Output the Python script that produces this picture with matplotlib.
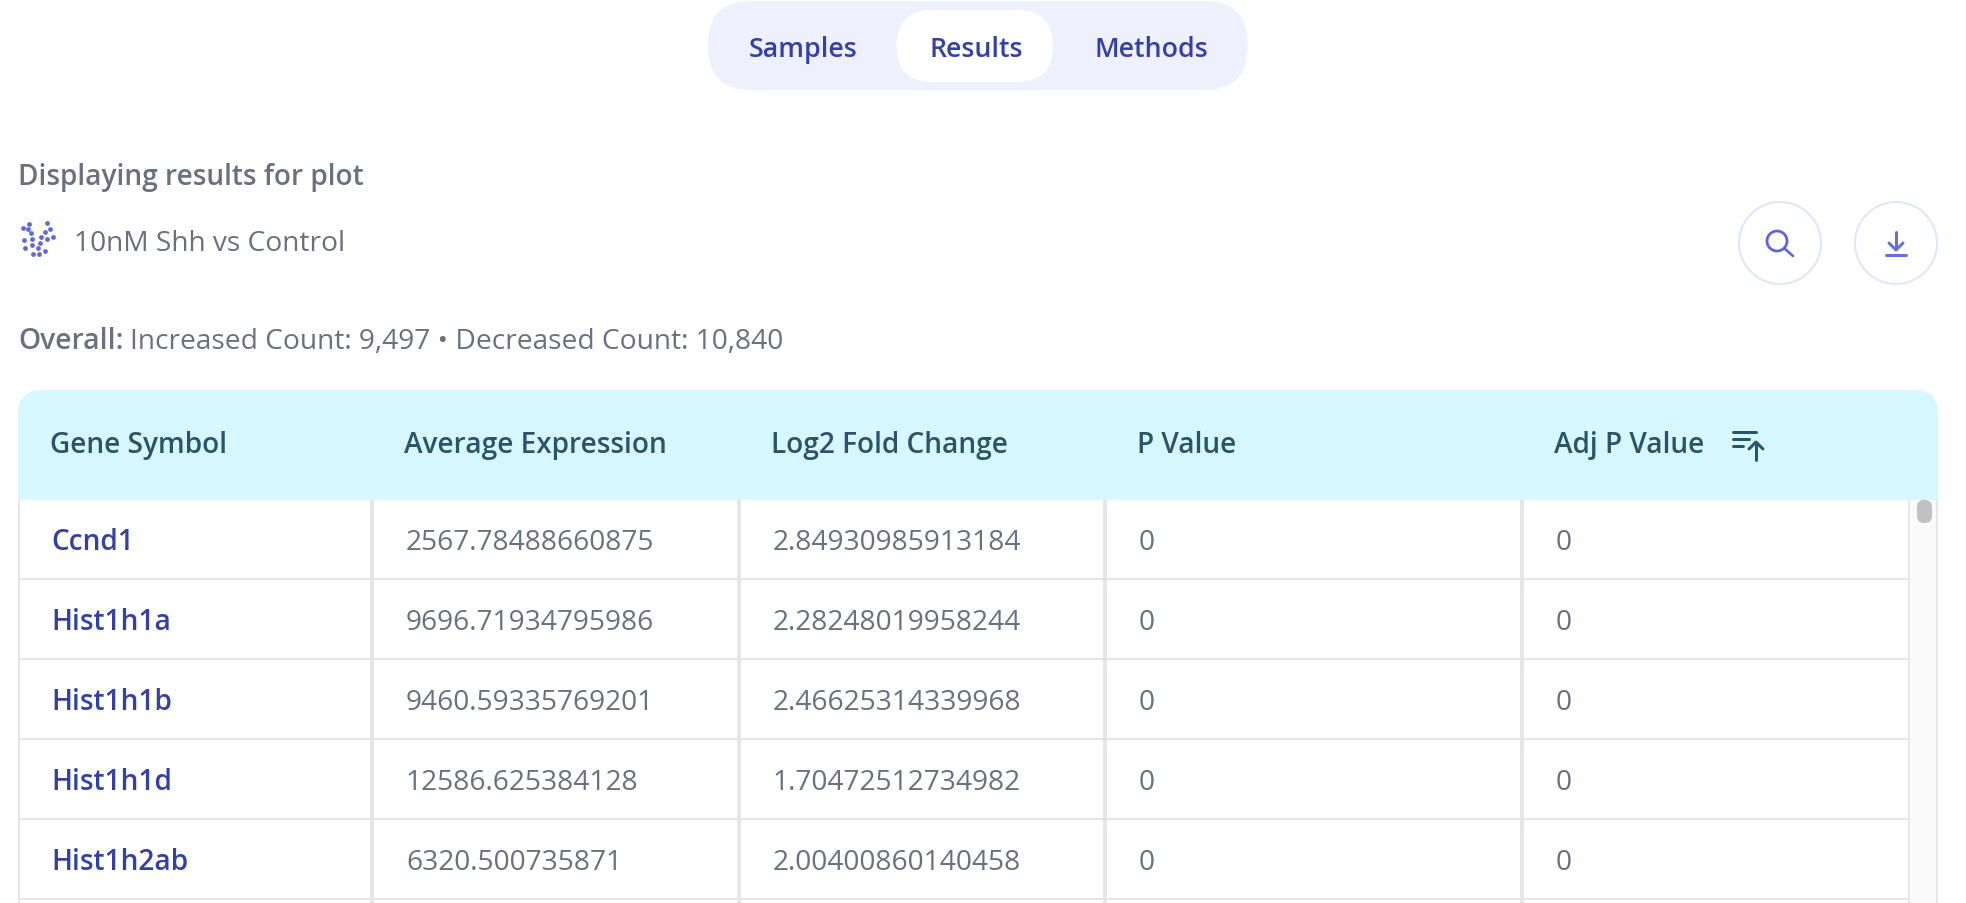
"""Results table screenshot, drawn in pixel coordinates."""
import matplotlib
matplotlib.use("Agg")
import matplotlib.pyplot as plt
from matplotlib.patches import Circle, FancyBboxPatch, Rectangle

W, H = 1966, 904
FONT = "Open Sans"

C_LINK = "#3540a5"
C_BODY = "#6b7080"
C_HEAD = "#2a5566"
C_LINE = "#e5e5ea"

tabs = ["Samples", "Results", "Methods"]
tab_x = [748.5, 929, 1094.5]

columns = ["Gene Symbol", "Average Expression", "Log2 Fold Change", "P Value", "Adj P Value"]
genes = ["Ccnd1", "Hist1h1a", "Hist1h1b", "Hist1h1d", "Hist1h2ab"]
avg_expr = ["2567.78488660875", "9696.71934795986", "9460.59335769201", "12586.625384128", "6320.500735871"]
log2_fc = ["2.84930985913184", "2.28248019958244", "2.46625314339968", "1.70472512734982", "2.00400860140458"]
p_val = ["0", "0", "0", "0", "0"]
adj_p = ["0", "0", "0", "0", "0"]

head_x = [50.5, 404, 771, 1137, 1553.5]
cell_x = [51.5, 406, 773, 1139, 1556]
col_lines = [372, 739, 1105, 1522]
row_lines = [580, 660, 740, 820, 900]
row_base = [550, 630, 710, 790, 870]

# volcano icon dots
icon_x = [23, 29.3, 27.7, 30.7, 31.7, 23.7, 24.7, 32.3, 38.3, 33.3, 39, 45.3, 40.3, 41.3, 44.7, 47.3, 50, 47.3, 52.7]
icon_y = [228.7, 225.3, 230.3, 234, 239.7, 241.3, 248.7, 245.7, 249, 255, 254.7, 252.3, 244, 237.7, 233, 224.3, 230, 239.7, 238.3]


def line(ax, xs, ys, color, px=2.0, cap="round", z=6):
    ax.plot(xs, ys, color=color, lw=px * 0.72, solid_capstyle=cap, zorder=z)


def pill(ax, x0, y0, x1, y1, r, color, z):
    ax.add_patch(FancyBboxPatch(
        (x0 + r, y0 + r), x1 - x0 - 2 * r, y1 - y0 - 2 * r,
        boxstyle=f"round,pad={r},rounding_size={r}",
        facecolor=color, edgecolor="none", zorder=z,
    ))


def label(ax, x, y, s, color, weight="normal", size=20.25):
    return ax.text(x, y, s, color=color, fontsize=size, fontweight=weight,
                   family=FONT, va="baseline", ha="left", zorder=8)


fig = plt.figure(figsize=(W / 100, H / 100), dpi=100, facecolor="white")
ax = fig.add_axes([0, 0, 1, 1])
ax.set_xlim(0, W)
ax.set_ylim(H, 0)
ax.axis("off")

# tab switcher
pill(ax, 708, 2, 1247.5, 91, 43, "#eef0fd", 1)
pill(ax, 896.5, 11, 1053, 83, 36, "white", 2)
for x, t in zip(tab_x, tabs):
    label(ax, x, 57, t, C_LINK, "semibold", 19.3)

# heading block
label(ax, 18.5, 185, "Displaying results for plot", C_BODY, "semibold", 20.2)
ax.scatter(icon_x, icon_y, s=12, color="#5f6ad6", linewidths=0, zorder=5)
label(ax, 74, 251, "10nM Shh vs Control", C_BODY)
label(ax, 18.5, 349, "Overall:", C_BODY, "semibold", 20.3)
label(ax, 130, 349, "Increased Count: 9,497 \u2022 Decreased Count: 10,840", C_BODY)

# search and download buttons
for cx in (1780, 1896):
    ax.add_patch(Circle((cx, 244), 41, facecolor="white", edgecolor="#e0e6fb", lw=1.5, zorder=3))
ax.add_patch(Circle((1777, 242), 10, facecolor="none", edgecolor="#5f63e0", lw=2.0, zorder=6))
line(ax, [1785, 1793], [250, 257], "#5f63e0", 2.6)
line(ax, [1896, 1896], [233, 250], "#6570d5", 3.0)
line(ax, [1889, 1896, 1903], [244, 251, 244], "#6570d5", 3.0)
line(ax, [1886, 1906], [255.5, 255.5], "#6570d5", 3.0)

# table body and header
pill(ax, 18, 391, 1938, 560, 24, "#d5f7fd", 1)
ax.add_patch(Rectangle((18, 501), 1920, H - 501, facecolor="white", edgecolor="none", zorder=2))
ax.add_patch(Rectangle((1909, 501), 28, H - 501, facecolor="#fafafa", edgecolor="none", zorder=3))
for x in (19, 1909, 1937):
    line(ax, [x, x], [501, H], C_LINE, 2, "butt", 4)
for x in col_lines:
    line(ax, [x, x], [501, H], C_LINE, 4, "butt", 4)
for y in row_lines:
    line(ax, [19, 1909], [y, y], C_LINE, 2, "butt", 4)
pill(ax, 1917, 501, 1932, 524, 7, "#c1c1c1", 5)

for x, c in zip(head_x, columns):
    label(ax, x, 453, c, C_HEAD, "semibold", 20.15)
for row in range(len(genes)):
    y = row_base[row]
    label(ax, cell_x[0], y, genes[row], C_LINK, "semibold", 20.2)
    label(ax, cell_x[1], y, avg_expr[row], C_BODY)
    label(ax, cell_x[2], y, log2_fc[row], C_BODY)
    label(ax, cell_x[3], y, p_val[row], C_BODY)
    label(ax, cell_x[4], y, adj_p[row], C_BODY)

# sort icon
line(ax, [1733, 1756], [433, 433], C_HEAD, 3)
line(ax, [1733, 1749], [440, 440], C_HEAD, 3)
line(ax, [1733, 1743], [447, 447], C_HEAD, 3)
line(ax, [1756, 1756], [444, 461], C_HEAD, 3)
line(ax, [1749, 1756, 1763], [450, 443, 450], C_HEAD, 3)

fig.savefig("out.png", dpi=100)
